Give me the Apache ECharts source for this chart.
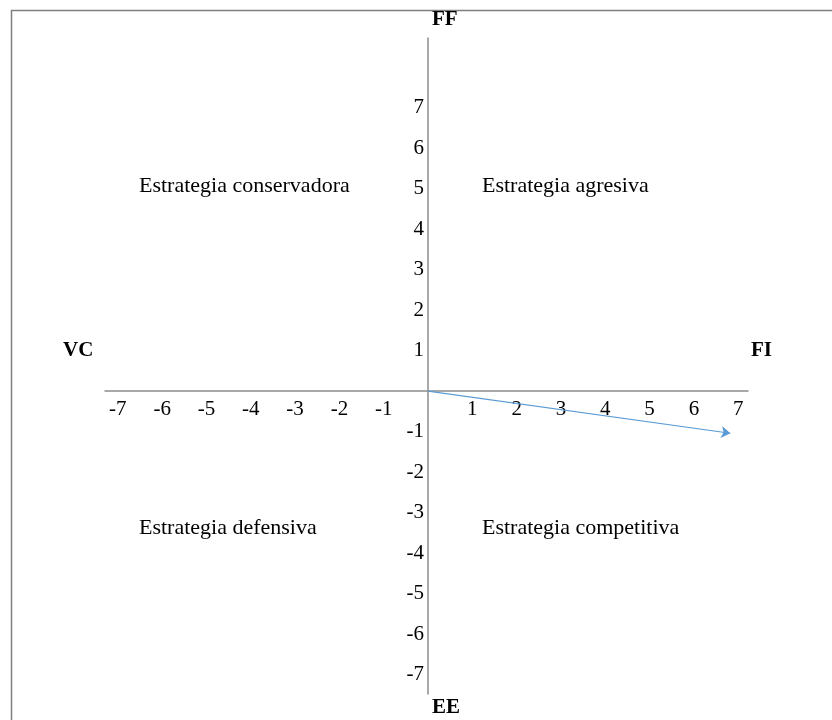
<!DOCTYPE html>
<html>
<head>
<meta charset="utf-8">
<script src="https://cdn.jsdelivr.net/npm/echarts@6/dist/echarts.min.js"></script>
<style>
html,body{margin:0;padding:0;background:#fff;}
#chart{width:832px;height:720px;}
</style>
</head>
<body>
<div id="chart"></div>
<script>
// Tick labels (values shown on each axis)
const xTicks = [-7, -6, -5, -4, -3, -2, -1, 1, 2, 3, 4, 5, 6, 7];
const yTicks = [-7, -6, -5, -4, -3, -2, -1, 1, 2, 3, 4, 5, 6, 7];
// Axis range
const xRange = [-7.29, 7.22];
const yRange = [-7.48, 8.72];
// Resulting vector (start at origin, end at FI/EE point)
const vectorStart = [0, 0];
const vectorEnd = [6.82, -1.04];
// Axis pole names and quadrant names
const poleNames = { left: 'VC', right: 'FI', top: 'FF', bottom: 'EE' };
const quadrantNames = ['Estrategia conservadora', 'Estrategia agresiva', 'Estrategia defensiva', 'Estrategia competitiva'];

const serif = '"Liberation Serif", "Times New Roman", serif';
const axisColor = '#8c8c8c';

const W = 832, H = 720;
const grid = { left: 105, right: 84, top: 38, bottom: 26 };
const gw = W - grid.left - grid.right, gh = H - grid.top - grid.bottom;
// shift axes so that they cross at zero
const xAxisOffset = -gh * (0 - yRange[0]) / (yRange[1] - yRange[0]);
const yAxisOffset = -gw * (0 - xRange[0]) / (xRange[1] - xRange[0]);

const chart = echarts.init(document.getElementById('chart'), null, { renderer: 'canvas' });

const labelStyle = { fontFamily: serif, fontSize: 21, color: '#000' };
const boldStyle = { fontFamily: serif, fontSize: 21, fontWeight: 'bold', fill: '#000' };
const quadStyle = { fontFamily: serif, fontSize: 22, fill: '#000' };

chart.setOption({
  animation: false,
  backgroundColor: '#fff',
  grid: { ...grid, containLabel: false },
  xAxis: {
    type: 'value', min: xRange[0], max: xRange[1], position: 'bottom', offset: xAxisOffset,
    axisLine: { show: true, onZero: false, lineStyle: { color: axisColor, width: 1.5 } },
    axisTick: { show: false },
    splitLine: { show: false },
    axisLabel: { show: true, customValues: xTicks, margin: 8, ...labelStyle }
  },
  yAxis: {
    type: 'value', min: yRange[0], max: yRange[1], position: 'left', offset: yAxisOffset,
    axisLine: { show: true, onZero: false, lineStyle: { color: axisColor, width: 1.5 } },
    axisTick: { show: false },
    splitLine: { show: false },
    axisLabel: { show: true, customValues: yTicks, margin: 4, ...labelStyle }
  },
  series: [{
    type: 'lines',
    coordinateSystem: 'cartesian2d',
    polyline: false,
    symbol: ['none', 'arrow'],
    symbolSize: 9,
    lineStyle: { color: '#5B9BD5', width: 1.2, opacity: 1 },
    data: [{ coords: [vectorStart, vectorEnd] }]
  }],
  graphic: [
    { type: 'rect', left: 9, top: 8, shape: { width: 900, height: 800 }, style: { fill: 'none', stroke: '#7f7f7f', lineWidth: 1.5 }, silent: true },
    { type: 'text', left: 63, top: 340, style: { text: poleNames.left, ...boldStyle } },
    { type: 'text', left: 751, top: 340, style: { text: poleNames.right, ...boldStyle } },
    { type: 'text', left: 432, top: 9, style: { text: poleNames.top, ...boldStyle } },
    { type: 'text', left: 432, top: 697, style: { text: poleNames.bottom, ...boldStyle } },
    { type: 'text', left: 139, top: 175, style: { text: quadrantNames[0], ...quadStyle } },
    { type: 'text', left: 482, top: 175, style: { text: quadrantNames[1], ...quadStyle } },
    { type: 'text', left: 139, top: 517, style: { text: quadrantNames[2], ...quadStyle } },
    { type: 'text', left: 482, top: 517, style: { text: quadrantNames[3], ...quadStyle } }
  ]
});
</script>
</body>
</html>
